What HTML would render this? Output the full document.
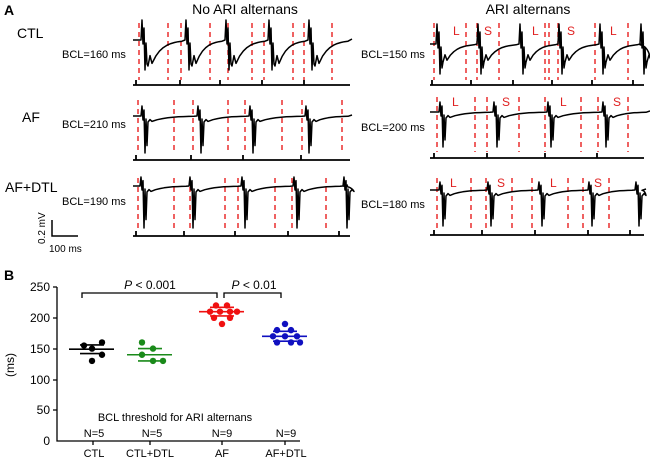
<!DOCTYPE html>
<html><head><meta charset="utf-8"><style>
html,body{margin:0;padding:0;background:#fff}
svg{display:block}
text{font-family:"Liberation Sans",Arial,sans-serif}
.r{fill:#e02020}
</style></head><body>
<svg id="s" width="650" height="459" viewBox="0 0 650 459" xmlns="http://www.w3.org/2000/svg">
<text x="4" y="15" font-size="14" font-weight="bold">A</text>
<text x="245" y="14" font-size="14" text-anchor="middle">No ARI alternans</text>
<text x="528" y="14" font-size="14" text-anchor="middle">ARI alternans</text>
<text x="17" y="38" font-size="14">CTL</text>
<text x="22" y="122" font-size="14">AF</text>
<text x="5" y="192" font-size="14">AF+DTL</text>
<text x="62" y="58" font-size="11">BCL=160 ms</text>
<text x="62" y="128" font-size="11">BCL=210 ms</text>
<text x="62" y="205" font-size="11">BCL=190 ms</text>
<text x="361" y="58" font-size="11">BCL=150 ms</text>
<text x="361" y="131" font-size="11">BCL=200 ms</text>
<text x="361" y="208" font-size="11">BCL=180 ms</text>
<path d="M52 220 V236 H78" stroke="#000" stroke-width="1.5" fill="none"/>
<text x="0" y="0" font-size="10" transform="translate(45,244) rotate(-90)">0.2 mV</text>
<text x="49" y="252" font-size="10">100 ms</text>
<g id="traces" fill="none"></g>
<g font-size="12">
<text class="r" x="453" y="35">L</text><text class="r" x="484" y="35">S</text><text class="r" x="532" y="35">L</text><text class="r" x="567" y="35">S</text><text class="r" x="610" y="35">L</text>
<text class="r" x="452" y="106">L</text><text class="r" x="502" y="106">S</text><text class="r" x="560" y="106">L</text><text class="r" x="613" y="106">S</text>
<text class="r" x="450" y="187">L</text><text class="r" x="497" y="187">S</text><text class="r" x="550" y="187">L</text><text class="r" x="594" y="187">S</text>
</g>
<!-- Panel B -->
<text x="4" y="280" font-size="14" font-weight="bold">B</text>
<g font-size="12" text-anchor="end">
<text x="50" y="291">250</text><text x="50" y="322">200</text><text x="50" y="353">150</text><text x="50" y="384">100</text><text x="50" y="414">50</text><text x="50" y="445">0</text>
</g>
<text x="0" y="0" font-size="12" text-anchor="middle" transform="translate(14,365) rotate(-90)">(ms)</text>
<path d="M57 287 V441 H300 M53 287 H57 M53 318 H57 M53 349 H57 M53 380 H57 M53 410 H57 M93 441 V445 M150 441 V445 M222 441 V445 M285 441 V445" stroke="#000" stroke-width="1.3" fill="none"/>
<path d="M82 298 V293 H217 V298 M224 298 V293 H281 V298" stroke="#000" stroke-width="1.3" fill="none"/>
<text x="150" y="289" font-size="12" text-anchor="middle"><tspan font-style="italic">P</tspan> &lt; 0.001</text>
<text x="254" y="289" font-size="12" text-anchor="middle"><tspan font-style="italic">P</tspan> &lt; 0.01</text>
<text x="175" y="421" font-size="11" text-anchor="middle">BCL threshold for ARI alternans</text>
<g font-size="11" text-anchor="middle">
<text x="94" y="437">N=5</text><text x="152" y="437">N=5</text><text x="222" y="437">N=9</text><text x="286" y="437">N=9</text>
<text x="94" y="457">CTL</text><text x="150" y="457">CTL+DTL</text><text x="222" y="457">AF</text><text x="286" y="457">AF+DTL</text>
</g>
<g id="dots"></g>
</svg>
<script>
var NS="http://www.w3.org/2000/svg";
var T=document.getElementById('traces');
function el(p,n,a){var e=document.createElementNS(NS,n);for(var k in a)e.setAttribute(k,a[k]);p.appendChild(e);return e;}
function axis(x1,x2,y,ticks){var d="M"+x1+" "+y+" H"+x2;ticks.forEach(function(t){d+=" M"+t+" "+y+" V"+(y-5);});el(T,"path",{d:d,stroke:"#000","stroke-width":1.8});}
function reds(xs,y1,y2){xs.forEach(function(x){el(T,"line",{x1:x,x2:x,y1:y1,y2:y2,stroke:"#e82020","stroke-width":1.4,"stroke-dasharray":"5,4"});});}
function trace(x0,x1,base,beats,up,dn,dip){
 var d="M"+x0+" "+base;
 beats.forEach(function(b,i){
  var nx=(i+1<beats.length)?beats[i+1]:x1;
  d+=" L"+(b-1)+" "+base+" L"+b+" "+(base-up)+" L"+(b+1)+" "+(base+4)+" L"+(b+2)+" "+(base-up*0.6)+" L"+(b+3)+" "+(base+dn)+" L"+(b+4)+" "+(base+3)+" L"+(b+5)+" "+(base+dn*0.8)+" L"+(b+6)+" "+(base+dip)+" L"+(b+8)+" "+(base+dip*0.6)+" L"+(b+10)+" "+(base+dip*0.9);
  var steps=8;for(var k=1;k<=steps;k++){var f=k/steps;var x=b+10+(nx-4-b-10)*f;d+=" L"+x.toFixed(1)+" "+(base+dip*0.9*Math.exp(-3*f)).toFixed(1);}
 });
 d+=" L"+x1+" "+(base-1);
 el(T,"path",{d:d,stroke:"#000","stroke-width":1.5,"stroke-linejoin":"round"});
}
reds([139,168,181,210,228,252,264,293,304,332],23,80);
trace(133,352,40,[142,186,226,269,309],20,30,26);
axis(133,350,85,[136,180,220,262,304]);
reds([138,174,193,228,245,282,302,342],100,152);
trace(133,352,116,[142,198,250,306],10,37,6);
axis(133,350,160,[136,191,243,301]);
reds([138,174,190,225,238,275,292,326],178,230);
trace(133,348,186,[141,190,242,294,344],9,42,6);
axis(133,350,236,[136,184,235,288,339]);
reds([434,466,477,499,545,549,558,595,628],23,80);
trace(430,644,44,[437,478,520,559,600,641],20,30,18);
axis(430,644,85,[432,471,513,552,592,633]);
reds([437,475,487,519,545,581,598,628],97,152);
trace(430,650,112,[440,494,548,603],10,35,6);
axis(430,644,158,[434,487,545,597]);
reds([437,471,486,512,532,568,583,609],178,232);
trace(430,646,190,[440,488,539,589,636],8,36,6);
axis(430,644,235,[434,482,535,588,630]);
var D=document.getElementById('dots');
function y(v){return 441-0.616*v;}
function grp(cx,col,pts,mean,sd){
 el(D,"path",{d:"M"+(cx-23)+" "+y(mean)+" H"+(cx+22)+" M"+(cx-12)+" "+y(mean+sd)+" H"+(cx+12)+" M"+(cx-12)+" "+y(mean-sd)+" H"+(cx+12),stroke:col,"stroke-width":1.6});
 pts.forEach(function(p){el(D,"circle",{cx:cx+p[0],cy:y(p[1]),r:3.2,fill:col});});
}
grp(92,"#000",[[-8,155],[10,160],[0,150],[10,140],[0,130]],149,7);
grp(150,"#1a8a1a",[[-8,160],[3,150],[-8,140],[3,130],[13,130]],140,10);
grp(222,"#f01010",[[-6,220],[5,220],[-12,210],[-2,210],[8,210],[15,210],[-8,200],[8,200],[0,190]],210,7);
grp(285,"#1010c0",[[0,190],[-8,180],[6,180],[-12,170],[0,170],[12,170],[-8,160],[6,160],[15,160]],170,8);
</script>
</body></html>
